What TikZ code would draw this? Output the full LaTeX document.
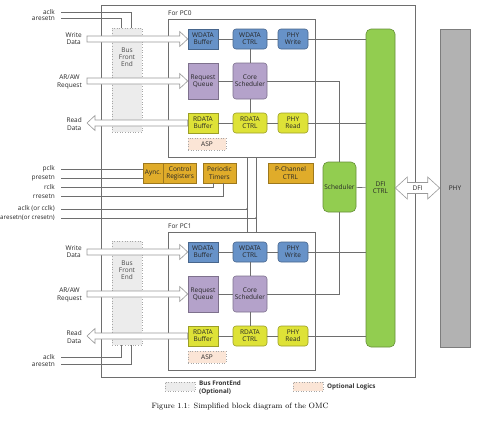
\documentclass[tikz,border=0pt]{standalone}
\usepackage{fontspec}
\newfontfamily\osans{Open Sans}
\usetikzlibrary{calc}
\definecolor{wblue}{RGB}{103,146,200}
\definecolor{qpurple}{RGB}{180,162,202}
\definecolor{ryellow}{RGB}{222,226,55}
\definecolor{cgold}{RGB}{224,172,42}
\definecolor{dgreen}{RGB}{146,205,80}
\definecolor{phygray}{RGB}{178,178,178}
\definecolor{optpeach}{RGB}{251,229,214}
\definecolor{wiregray}{RGB}{110,110,110}
\begin{document}
\begin{tikzpicture}[x=1pt,y=-1pt,
  every node/.style={font=\osans\fontsize{6.5}{7.2}\selectfont,text=black!85,align=center,inner sep=0pt},
  wire/.style={draw=wiregray,line width=0.6pt},
  frame/.style={draw=wiregray,line width=0.8pt},
  blk/.style={draw=#1!70!black,fill=#1,line width=0.6pt},
  small/.style={minimum width=30pt,minimum height=20pt},
  mid/.style={minimum width=34pt,minimum height=20pt,rounded corners=3pt},
  bfe/.style={draw=gray!70,dotted,fill=gray!15,line width=0.6pt},
  opt/.style={draw=gray!70,dotted,fill=optpeach,line width=0.6pt},
  blkarrow/.style={draw=gray!80,fill=white,line width=0.6pt}]
\useasboundingbox (0,0) rectangle (480,431);
%OMC
\node[frame,minimum width=314pt,minimum height=372pt] (omc) at (258,191) {};
\node[blk=dgreen,minimum width=29pt,minimum height=318pt,rounded corners=5pt] (dfi) at (380.5,188) {DFI\\CTRL};
\node[blk=dgreen,minimum width=33pt,minimum height=50pt,rounded corners=5pt] (sched) at (339.5,187) {Scheduler};
\node[blk=phygray,minimum width=30pt,minimum height=318pt] (phy) at (455,188) {PHY};
\draw[wire] (sched) -- (dfi);
%DFI
\draw[blkarrow] (dfi.east) -- ++(12,-11) -- ++(0,5.5) -- ($(phy.west)+(-12,-5.5)$) -- ++(0,-5.5) -- (phy.west)
  -- ++(-12,11) -- ++(0,-5.5) -- ($(dfi.east)+(12,5.5)$) -- ++(0,5.5) -- cycle;
\node (dfilbl) at (417.5,188) {DFI};
%PC0, PC1
\foreach \pc/\dy in {0/0,1/213}{
\begin{scope}[shift={(0,\dy)}]
\node[frame,minimum width=147pt,minimum height=138pt] (pc\pc) at (241.5,88) {};
\node[anchor=west] (pclbl\pc) at (168,13) {For PC\pc};
\node[bfe,minimum width=30pt,minimum height=104pt] (bfe\pc) at (127,80) {};
\node[text=gray!55!black] (bfet\pc) at (127,57) {Bus\\Front\\End};
\node[blk=wblue,small] (wbuf\pc) at (203,39) {WDATA\\Buffer};
\node[blk=wblue,mid] (wctl\pc) at (250,39) {WDATA\\CTRL};
\node[blk=wblue,small,rounded corners=3pt] (phyw\pc) at (293,39) {PHY\\Write};
\node[blk=qpurple,minimum width=30pt,minimum height=36pt] (rq\pc) at (203,81) {Request\\Queue};
\node[blk=qpurple,minimum width=34pt,minimum height=36pt,rounded corners=3pt] (core\pc) at (250,81) {Core\\Scheduler};
\node[blk=ryellow,small] (rbuf\pc) at (203,123) {RDATA\\Buffer};
\node[blk=ryellow,mid] (rctl\pc) at (250,123) {RDATA\\CTRL};
\node[blk=ryellow,small,rounded corners=3pt] (phyr\pc) at (293,123) {PHY\\Read};
\node[opt,minimum width=38pt,minimum height=12pt] (asp\pc) at (207,144) {ASP};
\draw[wire] (wbuf\pc) -- (wctl\pc) -- (phyw\pc);
\draw[wire] (rq\pc) -- (core\pc);
\draw[wire] (rbuf\pc) -- (rctl\pc) -- (phyr\pc);
\draw[wire] (wctl\pc) -- (core\pc) -- (rctl\pc);
\draw[wire] (phyw\pc) -- (phyw\pc -| dfi.west);
\draw[wire] (phyr\pc) -- (phyr\pc -| dfi.west);
\draw[wire] (core\pc) -| (sched);
%bus arrows
\coordinate (wdin\pc) at (87,39);
\coordinate (rqin\pc) at (87,81);
\coordinate (rdout\pc) at (87,123);
\draw[blkarrow] ($(wdin\pc)+(0,-3)$) -- ($(wbuf\pc.west)+(-8,-3)$) -- ++(0,-4.5) -- (wbuf\pc.west)
  -- ++(-8,7.5) -- ++(0,-4.5) -- ($(wdin\pc)+(0,3)$) -- cycle;
\draw[blkarrow] ($(rqin\pc)+(0,-3)$) -- ($(rq\pc.west)+(-8,-3)$) -- ++(0,-4.5) -- (rq\pc.west)
  -- ++(-8,7.5) -- ++(0,-4.5) -- ($(rqin\pc)+(0,3)$) -- cycle;
\draw[blkarrow] ($(rbuf\pc.west)+(0,-3)$) -- ($(rdout\pc)+(8,-3)$) -- ++(0,-4.5) -- (rdout\pc)
  -- ++(8,7.5) -- ++(0,-4.5) -- ($(rbuf\pc.west)+(0,3)$) -- cycle;
\node[anchor=east] (wdl\pc) at (82,39) {Write\\Data};
\node[anchor=east] (rql\pc) at (82,82) {AR/AW\\Request};
\node[anchor=east] (rdl\pc) at (82,124) {Read\\Data};
\end{scope}
}
%control
\node[blk=cgold,minimum width=20pt,minimum height=20pt] (aync) at (153,173) {Aync.};
\node[blk=cgold,minimum width=33pt,minimum height=20pt,anchor=west] (creg) at (aync.east) {Control\\Registers};
\node[blk=cgold,minimum width=33pt,minimum height=20pt] (tmr) at (219.5,173) {Periodic\\Timers};
\node[blk=cgold,minimum width=45pt,minimum height=20pt] (pch) at (290.5,173) {P-Channel\\CTRL};
%Text
\node[anchor=east] (aclkt) at (55,12) {aclk};
\node[anchor=east] (arstt) at (55,18.5) {aresetn};
\node[anchor=east] (pclk) at (55,169) {pclk};
\node[anchor=east] (prst) at (55,178) {presetn};
\node[anchor=east] (rclk) at (55,187) {rclk};
\node[anchor=east] (rrst) at (55,196) {rresetn};
\node[anchor=east] (cclk) at (55,209) {aclk (or cclk)};
\node[anchor=east,font=\osans\fontsize{6.2}{7}\selectfont] (crst) at (55,218) {aresetn(or cresetn)};
\node[anchor=east] (aclkb) at (55,357) {aclk};
\node[anchor=east] (arstb) at (55,364) {aresetn};
\coordinate (ck) at (247,209);
\coordinate (rs) at (256,218);
\draw[wire] ([xshift=6pt]aclkt.east) -| ([xshift=4pt]bfe0.north);
\draw[wire] ([xshift=6pt]arstt.east) -| ([xshift=-6pt]bfe0.north);
\draw[wire] ([xshift=6pt]aclkb.east) -| ([xshift=-6pt]bfe1.south);
\draw[wire] ([xshift=6pt]arstb.east) -| ([xshift=4pt]bfe1.south);
\draw[wire] ([xshift=6pt]pclk.east) -- (pclk.east -| aync.west);
\draw[wire] ([xshift=6pt]prst.east) -- (prst.east -| aync.west);
\draw[wire] ([xshift=6pt]rclk.east) -| ([xshift=-6.5pt]tmr.south);
\draw[wire] ([xshift=6pt]rrst.east) -| ([xshift=3.5pt]tmr.south);
\draw[wire] ([xshift=6pt]cclk.east) -- (ck);
\draw[wire] ([xshift=6pt]crst.east) -- (rs);
\draw[wire] (ck |- pc0.south) -- (ck |- pc1.north);
\draw[wire] (rs |- pc0.south) -- (rs |- pc1.north);
\fill[wiregray] (ck) circle (1pt) (rs) circle (1pt);
%legend
\node[bfe,minimum width=30pt,minimum height=9pt] (lgbfe) at (180,386.5) {};
\node[anchor=west,align=left,font=\osans\bfseries\fontsize{6.3}{7.6}\selectfont,text=gray!40!black] (lgbfet) at (199,388) {Bus FrontEnd\\(Optional)};
\node[opt,minimum width=30pt,minimum height=9pt] (lgopt) at (308,386.5) {};
\node[anchor=west,font=\osans\bfseries\fontsize{6.3}{7.6}\selectfont,text=gray!40!black] (lgoptt) at (327,386.5) {Optional Logics};
\node[font=\rmfamily\fontsize{7.7}{9}\selectfont,text=black] (cap) at (240,407) {Figure 1.1: Simplified block diagram of the OMC};
\end{tikzpicture}
\end{document}
